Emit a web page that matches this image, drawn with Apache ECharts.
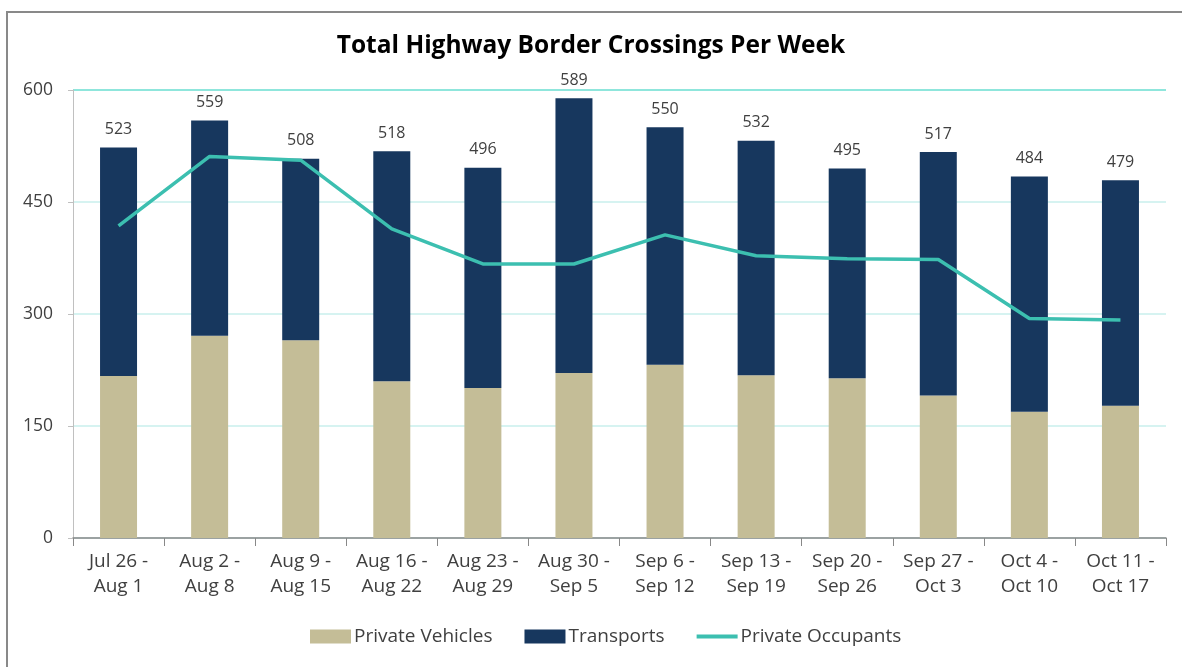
<!DOCTYPE html>
<html>
<head>
<meta charset="utf-8">
<script src="https://cdn.jsdelivr.net/npm/echarts@6/dist/echarts.min.js"></script>
<style>
  html, body { margin: 0; padding: 0; background: #fff; }
  #chart { width: 1182px; height: 667px; }
</style>
</head>
<body>
<div id="chart"></div>
<script>
  const weeks = ['Jul 26 -\nAug 1', 'Aug 2 -\nAug 8', 'Aug 9 -\nAug 15', 'Aug 16 -\nAug 22', 'Aug 23 -\nAug 29', 'Aug 30 -\nSep 5',
    'Sep 6 -\nSep 12', 'Sep 13 -\nSep 19', 'Sep 20 -\nSep 26', 'Sep 27 -\nOct 3', 'Oct 4 -\nOct 10', 'Oct 11 -\nOct 17']
  const totals = [523, 559, 508, 518, 496, 589, 550, 532, 495, 517, 484, 479]
  const privateVehicles = [217, 271, 265, 210, 201, 221, 232, 218, 214, 191, 169, 177]
  const transports = [306, 288, 243, 308, 295, 368, 318, 314, 281, 326, 315, 302]
  const privateOccupants = [418, 511, 506, 414, 367, 367, 406, 378, 374, 373, 294, 292]

  const font = 'Open Sans'
  const chart = echarts.init(document.getElementById('chart'))

  chart.setOption({
    animation: false,
    textStyle: { fontFamily: font },
    graphic: [{
      type: 'rect',
      shape: { x: 7, y: 12, width: 1400, height: 900 },
      style: { fill: 'none', stroke: '#898989', lineWidth: 2 },
      silent: true
    }],
    title: {
      text: 'Total Highway Border Crossings Per Week',
      left: 'center',
      top: 29,
      textStyle: { fontFamily: font, fontSize: 24.5, fontWeight: 'bold', color: '#000' }
    },
    legend: {
      bottom: 16,
      left: 305,
      itemWidth: 41,
      itemHeight: 14,
      itemGap: 32,
      textStyle: { fontFamily: font, fontSize: 19, color: '#404040', padding: [0, 0, 0, -2] },
      data: [
        { name: 'Private Vehicles', icon: 'rect' },
        { name: 'Transports', icon: 'rect' },
        { name: 'Private Occupants', icon: 'path://M0,0H40V4H0Z' }
      ]
    },
    grid: { left: 73, right: 16, top: 90, bottom: 129 },
    xAxis: {
      type: 'category',
      data: weeks,
      axisLine: { lineStyle: { color: '#888', width: 1.5 } },
      axisTick: { show: true, length: 8, lineStyle: { color: '#888' } },
      axisLabel: { fontFamily: font, fontSize: 19, color: '#404040', margin: 11, lineHeight: 25, interval: 0 }
    },
    yAxis: {
      type: 'value',
      min: 0,
      max: 600,
      interval: 150,
      axisLine: { show: true, lineStyle: { color: '#c0c0c0' } },
      axisTick: { show: true, length: 5, lineStyle: { color: '#c0c0c0' } },
      axisLabel: { fontFamily: font, fontSize: 17.5, color: '#404040', margin: 20 },
      splitLine: { lineStyle: { color: ['#d6f3f1', '#d6f3f1', '#d6f3f1', '#d6f3f1', '#8fe6dc'], width: 2 } }
    },
    series: [
      {
        name: 'Private Vehicles',
        type: 'bar',
        stack: 'total',
        barWidth: 37,
        itemStyle: { color: '#c4bd97' },
        data: privateVehicles
      },
      {
        name: 'Transports',
        type: 'bar',
        stack: 'total',
        barWidth: 37,
        itemStyle: { color: '#17375e' },
        label: {
          show: true,
          position: 'top',
          distance: 10,
          fontFamily: font,
          fontSize: 16,
          color: '#404040',
          formatter: p => totals[p.dataIndex]
        },
        data: transports
      },
      {
        name: 'Private Occupants',
        type: 'line',
        symbol: 'none',
        lineStyle: { color: '#3cbfb0', width: 3.5 },
        itemStyle: { color: '#3cbfb0' },
        data: privateOccupants
      }
    ]
  })
</script>
</body>
</html>
